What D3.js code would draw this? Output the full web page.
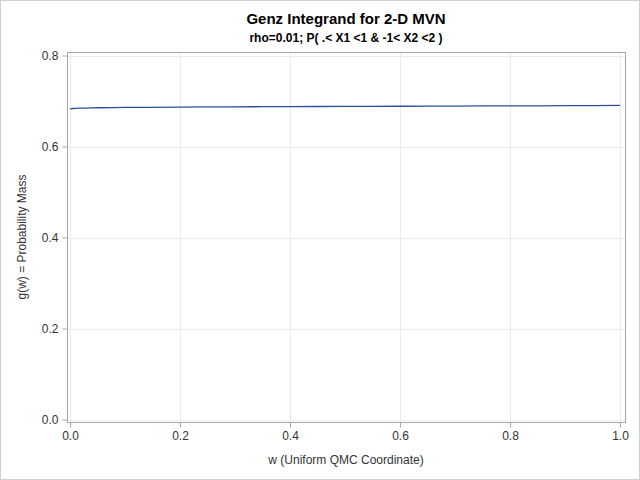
<!DOCTYPE html>
<html>
<head>
<meta charset="utf-8">
<script src="https://cdn.jsdelivr.net/npm/d3@7"></script>
<style>
  body { margin: 0; background: #fff; }
  text { font-family: "Liberation Sans", Arial, sans-serif; }
</style>
</head>
<body>
<div id="chart"></div>
<script>
// values
var wValues = [0.0, 0.005, 0.01, 0.02, 0.05, 0.1, 0.2, 0.3, 0.4, 0.5, 0.6, 0.7, 0.8, 0.9, 1.0];
var gValues = [0.6825, 0.6835, 0.684, 0.6845, 0.6852, 0.6858, 0.6866, 0.6872, 0.6877, 0.6881, 0.6885, 0.6889, 0.6893, 0.6897, 0.6902];
var xTicks = [0.0, 0.2, 0.4, 0.6, 0.8, 1.0];
var yTicks = [0.0, 0.2, 0.4, 0.6, 0.8];

var width = 640, height = 480;
var frame = { left: 67, right: 625, top: 52, bottom: 422 };

var svg = d3.select('#chart')
	.append('svg')
	.attr('width', width)
	.attr('height', height);

// outer border
svg.append('rect')
	.attr('x', 0.5).attr('y', 0.5)
	.attr('width', width - 1).attr('height', height - 1)
	.attr('fill', '#fff')
	.attr('stroke', '#d0d0d0');

var x = d3.scaleLinear().domain([0, 1]).range([70, 620]);
var y = d3.scaleLinear().domain([0, 0.8]).range([419.5, 55.5]);

// grid lines
svg.append('g')
	.selectAll('line.gx')
	.data(xTicks)
	.enter()
	.append('line')
	.attr('x1', function (d) { return Math.round(x(d)) + 0.5; })
	.attr('x2', function (d) { return Math.round(x(d)) + 0.5; })
	.attr('y1', frame.top)
	.attr('y2', frame.bottom)
	.attr('stroke', '#ebebeb');

svg.append('g')
	.selectAll('line.gy')
	.data(yTicks)
	.enter()
	.append('line')
	.attr('y1', function (d) { return Math.round(y(d)) + 0.5; })
	.attr('y2', function (d) { return Math.round(y(d)) + 0.5; })
	.attr('x1', frame.left)
	.attr('x2', frame.right)
	.attr('stroke', '#ebebeb');

// the series
var line = d3.line()
	.x(function (d, i) { return x(wValues[i]); })
	.y(function (d) { return y(d); })
	.curve(d3.curveMonotoneX);

svg.append('path')
	.datum(gValues)
	.attr('d', line)
	.attr('fill', 'none')
	.attr('stroke', '#2a4ea0')
	.attr('stroke-width', 1.3);

// frame
svg.append('rect')
	.attr('x', frame.left + 0.5)
	.attr('y', frame.top + 0.5)
	.attr('width', frame.right - frame.left)
	.attr('height', frame.bottom - frame.top)
	.attr('fill', 'none')
	.attr('stroke', '#a6a6a6');

// axes
var xAxis = svg.append('g')
	.attr('transform', 'translate(0,' + (frame.bottom + 0.5) + ')')
	.call(d3.axisBottom(x).tickValues(xTicks).tickFormat(d3.format('.1f')).tickSizeOuter(0).tickSize(5).tickPadding(4));

var yAxis = svg.append('g')
	.attr('transform', 'translate(' + (frame.left + 0.5) + ',0)')
	.call(d3.axisLeft(y).tickValues(yTicks).tickFormat(d3.format('.1f')).tickSizeOuter(0).tickSize(5).tickPadding(4));

[xAxis, yAxis].forEach(function (a) {
	a.select('.domain').remove();
	a.selectAll('line').attr('stroke', '#a6a6a6');
	a.selectAll('text')
		.attr('fill', '#333')
		.style('font-size', '12px')
		.style('font-family', '"Liberation Sans", Arial, sans-serif');
});

// titles
svg.append('text')
	.attr('x', 346).attr('y', 24)
	.attr('text-anchor', 'middle')
	.style('font-size', '15px')
	.style('font-weight', 'bold')
	.text('Genz Integrand for 2-D MVN');

svg.append('text')
	.attr('x', 346).attr('y', 42)
	.attr('text-anchor', 'middle')
	.style('font-size', '12px')
	.style('font-weight', 'bold')
	.text('rho=0.01; P( .< X1 <1 & -1< X2 <2 )');

svg.append('text')
	.attr('x', 346).attr('y', 464)
	.attr('text-anchor', 'middle')
	.attr('fill', '#333')
	.style('font-size', '12px')
	.text('w (Uniform QMC Coordinate)');

svg.append('text')
	.attr('transform', 'translate(26,237) rotate(-90)')
	.attr('text-anchor', 'middle')
	.attr('fill', '#333')
	.style('font-size', '12px')
	.text('g(w) = Probability Mass');
</script>
</body>
</html>
